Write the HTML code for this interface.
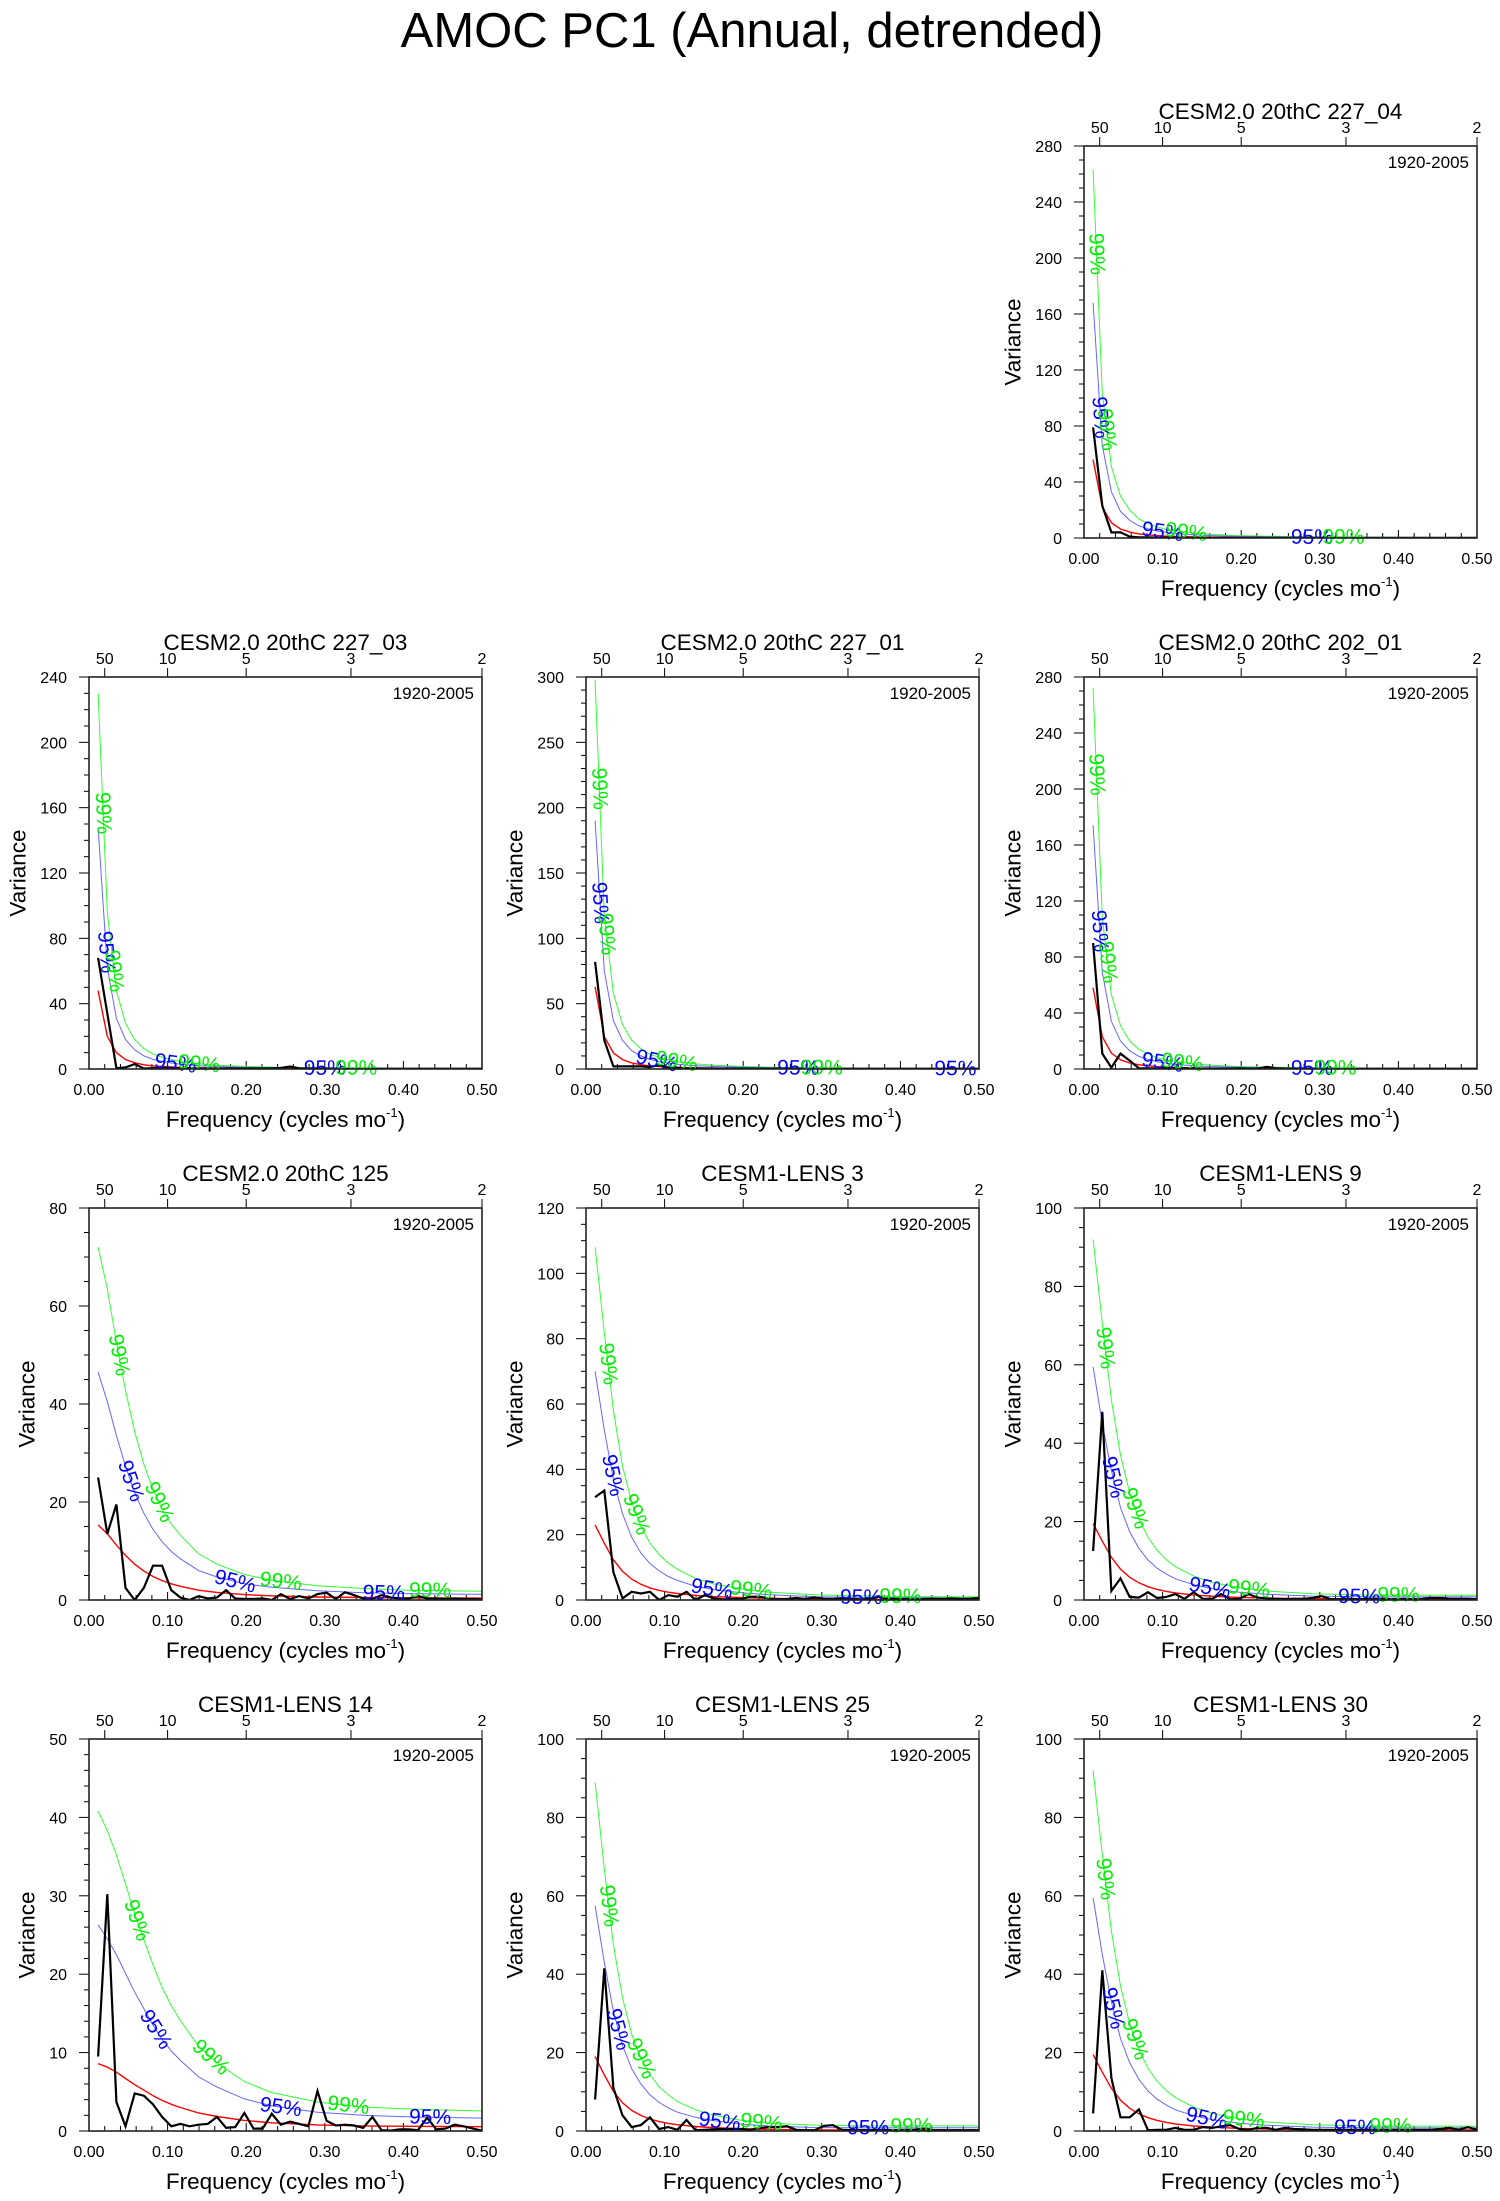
<!DOCTYPE html>
<html><head><meta charset="utf-8"><title>AMOC PC1 (Annual, detrended)</title>
<style>
html,body{margin:0;padding:0;background:#fff;}
svg{display:block;font-family:"Liberation Sans",Arial,sans-serif;}
</style></head>
<body>
<svg id="fig" width="1500" height="2201" viewBox="0 0 1500 2201" xmlns="http://www.w3.org/2000/svg">
<text x="752" y="47" font-size="49" text-anchor="middle" fill="#000">AMOC PC1 (Annual, detrended)</text>
</svg>
<script>
// ---- shared x data ----
const freqs = [0.0116,0.0233,0.0349,0.0465,0.0581,0.0698,0.0814,0.0930,0.1047,0.1163,0.1279,0.1395,0.1512,0.1628,0.1744,0.1860,0.1977,0.2093,0.2209,0.2326,0.2442,0.2558,0.2674,0.2791,0.2907,0.3023,0.3140,0.3256,0.3372,0.3488,0.3605,0.3721,0.3837,0.3953,0.4070,0.4186,0.4302,0.4419,0.4535,0.4651,0.4767,0.4884,0.5000];
const gridFreqs = [0.0116,0.0233,0.0349,0.0465,0.0581,0.0698,0.0814,0.0930,0.1047,0.1163,0.1395,0.1628,0.1977,0.2326,0.2907,0.3488,0.4070,0.5000];
const xTickVals = [0.0,0.1,0.2,0.3,0.4,0.5];
const xTickLabels = ["0.00","0.10","0.20","0.30","0.40","0.50"];
const periodLabels = ["50","10","5","3","2"];
const periodFreqs = [0.02,0.1,0.2,0.3333,0.5];

// ---- panel A: CESM2.0 20thC 227_04 ----
const specA = [79,23,4,4,1,0.5,0.4,0.3,0.3,0.2, 0.2,0.2,0.2,0.1,0.1,0.1,0.1,0.1,0.2,0.1, 0.1,0.1,0.1,0.1,0.1,0.1,0.1,0.1,0.1,0.1, 0.1,0.1,0.1,0.1,0.1,0.1,0.1,0.1,0.1,0.1, 0.1,0.1,0.1];
const redA = [56,22,10.9,6.4,4.2,2.9,2.2,1.7,1.3,1.1,0.75,0.55,0.37,0.27,0.17,0.12,0.09,0.06];
const c95A = [168,66,33,19,12.6,8.7,6.5,5,4,3.2,2.3,1.7,1.1,0.8,0.5,0.36,0.27,0.18];
const c99A = [263,103,51,30,20,13.6,10.3,8,6.1,5.2,3.5,2.6,1.7,1.3,0.8,0.56,0.42,0.28];
// ---- panel B: 227_03 ----
const specB = [68,34,0.5,1,3,0.3,0.5,0.8,0.6,0.4, 0.5,0.3,0.4,0.3,0.4,0.3,0.3,0.3,0.3,0.4, 0.6,1.5,0.4,0.3,0.3,0.3,0.2,0.2,0.2,0.2, 0.2,0.2,0.2,0.2,0.2,0.2,0.2,0.2,0.2,0.2, 0.2,0.2,0.2];
const redB = [48,20,10,5.8,3.8,2.6,1.9,1.5,1.2,0.95,0.66,0.48,0.33,0.24,0.15,0.11,0.08,0.06];
const c95B = [148,62,31,18,11.7,8,5.9,4.6,3.7,2.9,2,1.5,1,0.74,0.46,0.34,0.25,0.18];
const c99B = [230,96,48,28,18,12.5,9.1,7.2,5.8,4.6,3.2,2.3,1.6,1.15,0.72,0.53,0.38,0.29];
// ---- panel C: 227_01 ----
const specC = [82,22,2,2,2,2,1.5,3,1,1, 0.5,0.5,0.4,0.4,0.3,0.3,0.3,0.3,0.3,0.3, 0.3,0.3,0.3,0.2,0.2,0.2,0.2,0.2,0.2,0.2, 0.2,0.2,0.2,0.2,0.2,0.2,0.2,0.2,0.2,0.2, 0.2,0.2,0.2];
const redC = [63,24.8,12.3,7.2,4.7,3.3,2.4,1.9,1.5,1.2,0.84,0.62,0.42,0.3,0.19,0.13,0.1,0.07];
const c95C = [190,75,37,22,14,10,7.3,5.7,4.5,3.6,2.5,1.9,1.3,0.9,0.57,0.4,0.3,0.2];
const c99C = [298,117,58,34,22,15.5,11.3,8.9,7,5.6,3.9,2.9,2,1.4,0.9,0.6,0.47,0.33];
// ---- panel D: 202_01 ----
const specD = [90,11,1,11,6,0.5,0.5,0.5,0.8,0.6, 0.4,0.4,0.3,0.3,0.3,0.3,0.4,0.3,0.3,1.5, 0.6,0.3,0.3,0.3,0.2,0.2,0.2,0.2,0.2,0.2, 0.2,0.2,0.2,0.2,0.2,0.2,0.2,0.2,0.2,0.2, 0.2,0.2,0.2];
const redD = [58,23,11.3,6.6,4.3,3,2.3,1.7,1.4,1.1,0.78,0.57,0.38,0.28,0.18,0.12,0.09,0.06];
const c95D = [174,69,34,20,13,9,6.9,5.2,4.2,3.3,2.3,1.7,1.15,0.84,0.54,0.36,0.27,0.18];
const c99D = [272,108,53,31,20,14,10.8,8,6.6,5.2,3.7,2.7,1.8,1.3,0.85,0.56,0.42,0.28];
// ---- panel E: 125 ----
const specE = [25,13.5,19.5,2.5,0,2.5,7,7,2,0.5, 0,0.8,0.3,0.5,2,0.3,0.2,0.2,0.3,0, 1.2,0.2,0.8,0.3,1.2,1.5,0.2,1.6,1,0.3, 0.2,1,0.5,0.3,0.3,0.8,0.3,0.3,0.2,0.3, 0.2,0.2,0.1];
const redE = [15.3,13.5,11.2,9.1,7.3,5.9,4.8,3.95,3.3,2.8,2.0,1.55,1.1,0.85,0.62,0.5,0.43,0.38];
const c95E = [46.5,40.5,33.6,27.3,21.9,17.7,14.4,11.9,9.9,8.4,6,4.7,3.3,2.6,1.9,1.5,1.3,1.15];
const c99E = [72,63.5,52.6,42.8,34.3,27.7,22.6,18.6,15.5,13.2,9.4,7.3,5.2,4,2.9,2.35,2,1.8];
// ---- panel F: LENS 3 ----
const specF = [31.5,33.5,8.5,0.5,2.5,2,2.5,0,1.5,1, 2.5,0,1.5,0.5,0.2,0.3,0.3,1,1,0.5, 0.2,0.3,0.6,0.3,0.8,0.4,0.3,0.5,0.3,0.2, 0.3,1,0.4,0.3,0.3,0.2,0.3,0.4,0.3,0.5, 0.3,0.4,0.6];
const redF = [23,17.4,12.3,8.8,6.4,4.8,3.7,2.95,2.4,2,1.4,1.05,0.72,0.52,0.34,0.26,0.22,0.2];
const c95F = [70,52,37,26.4,19.2,14.4,11.1,8.9,7.2,6,4.2,3.2,2.2,1.6,1.0,0.8,0.66,0.6];
const c99F = [108,82,58,41,30,22.6,17.4,13.9,11.3,9.4,6.6,4.9,3.4,2.4,1.6,1.25,1.05,0.95];
// ---- panel G: LENS 9 ----
const specG = [12.5,48,2.3,5.5,0.8,0.6,2,0.5,0.8,1.5, 0.3,2,0.3,0.3,1.5,0.2,0.3,1.5,0.6,0.4, 0.3,0.2,0.3,0.3,0.5,1,0.2,0.2,0.3,0.2, 0.3,0.3,0.3,0.2,0.3,0.2,0.3,0.5,0.5,0.3, 0.3,0.3,0.2];
const redG = [19.5,15,10.9,7.85,5.8,4.4,3.4,2.7,2.2,1.8,1.3,0.96,0.66,0.48,0.33,0.28,0.27,0.26];
const c95G = [59.5,45,33,23.6,17.4,13.2,10.2,8.1,6.6,5.4,3.9,2.9,2,1.45,1.0,0.85,0.8,0.8];
const c99G = [92,70.5,51,37,27.3,20.7,16,12.7,10.3,8.5,6.1,4.5,3.1,2.3,1.6,1.3,1.25,1.2];
// ---- panel H: LENS 14 ----
const specH = [9.5,30.2,3.7,0.6,4.8,4.5,3.4,1.8,0.6,0.9, 0.6,0.8,0.9,1.8,0.4,0.5,2.3,0.3,0.3,2.2, 0.8,1.2,0.9,0.6,5.1,1.3,0.7,0.8,0.7,0.4, 1.8,0.1,0.05,0.2,0.2,0.1,1.7,0.2,0.3,0.8, 0.6,0.3,0.05];
const redH = [8.6,8.15,7.5,6.7,5.9,5.2,4.5,3.9,3.4,3.0,2.3,1.85,1.35,1.05,0.78,0.65,0.6,0.55];
const c95H = [26.3,24.5,22.5,20.1,17.7,15.6,13.5,11.7,10.2,9,6.9,5.6,4.1,3.2,2.4,2,1.8,1.65];
const c99H = [40.8,38.3,35.2,31.5,27.7,24.4,21.2,18.3,16,14.1,10.8,8.7,6.3,4.9,3.7,3.05,2.8,2.55];
// ---- panel I: LENS 25 ----
const specI = [8,41.5,11,4,1,1.5,3.5,0.5,1,0.3, 2.8,0.2,0.3,0.4,0.5,0.5,0.5,0.3,0.8,1, 1,1.2,0.3,0.2,0.2,1.3,1.5,0.3,0.2,0.2, 0.2,0.3,0.2,0.2,0.3,0.3,0.6,0.2,0.2,0.2, 0.2,0.2,0.2];
const redI = [19,14.3,10.1,7.2,5.25,3.95,3.05,2.4,1.95,1.6,1.15,0.85,0.58,0.42,0.28,0.25,0.25,0.28];
const c95I = [57.5,43,30.5,21.8,15.9,12,9.2,7.3,5.9,4.8,3.5,2.6,1.75,1.27,0.9,0.8,0.8,0.85];
const c99I = [89,67,47.5,34,24.7,18.6,14.3,11.3,9.2,7.5,5.4,4,2.7,2,1.5,1.3,1.3,1.3];
// ---- panel J: LENS 30 ----
const specJ = [4.5,41,13.5,3.5,3.5,5.5,0.2,0.3,0.3,0.8, 0.3,0.3,1,0.8,1.2,1.5,0.5,0.3,0.8,0.8, 0.3,0.8,0.5,0.4,0.3,0.3,0.3,0.3,0.3,0.3, 0.3,0.3,0.3,0.3,0.3,0.3,0.3,0.3,0.5,0.8, 0.3,1,0.3];
const redJ = [19.5,15,10.9,7.85,5.8,4.4,3.4,2.7,2.2,1.8,1.3,0.96,0.66,0.48,0.33,0.28,0.27,0.26];
const c95J = [59.5,45,33,23.6,17.4,13.2,10.2,8.1,6.6,5.4,3.9,2.9,2,1.45,1.0,0.85,0.8,0.8];
const c99J = [92,70.5,51,37,27.3,20.7,16,12.7,10.3,8.5,6.1,4.5,3.1,2.3,1.6,1.3,1.25,1.2];

const panels = [
 {key:'cesm2-227-04', title:'CESM2.0 20thC 227_04', col:2,row:0, ymax:280, ystep:40, ysub:4, spec:specA, red:redA, c95:c95A, c99:c99A, labF:[0.016,0.021,0.029,0.10,0.13,0.29,0.33], labT:['99','95','99','95','99','95','99']},
 {key:'cesm2-227-03', title:'CESM2.0 20thC 227_03', col:0,row:1, ymax:240, ystep:40, ysub:4, spec:specB, red:redB, c95:c95B, c99:c99B, labF:[0.018,0.022,0.032,0.11,0.14,0.30,0.34], labT:['99','95','99','95','99','95','99']},
 {key:'cesm2-227-01', title:'CESM2.0 20thC 227_01', col:1,row:1, ymax:300, ystep:50, ysub:5, spec:specC, red:redC, c95:c95C, c99:c99C, labF:[0.017,0.018,0.026,0.09,0.115,0.27,0.30,0.47], labT:['99','95','99','95','99','95','99','95']},
 {key:'cesm2-202-01', title:'CESM2.0 20thC 202_01', col:2,row:1, ymax:280, ystep:40, ysub:4, spec:specD, red:redD, c95:c95D, c99:c99D, labF:[0.016,0.02,0.03,0.10,0.125,0.29,0.32], labT:['99','95','99','95','99','95','99']},
 {key:'cesm2-125', title:'CESM2.0 20thC 125', col:0,row:2, ymax:80, ystep:20, ysub:4, spec:specE, red:redE, c95:c95E, c99:c99E, labF:[0.038,0.053,0.089,0.186,0.244,0.375,0.434], labT:['99','95','99','95','99','95','99']},
 {key:'lens-3', title:'CESM1-LENS 3', col:1,row:2, ymax:120, ystep:20, ysub:4, spec:specF, red:redF, c95:c95F, c99:c99F, labF:[0.028,0.034,0.064,0.16,0.21,0.35,0.40], labT:['99','95','99','95','99','95','99']},
 {key:'lens-9', title:'CESM1-LENS 9', col:2,row:2, ymax:100, ystep:20, ysub:4, spec:specG, red:redG, c95:c95G, c99:c99G, labF:[0.027,0.037,0.065,0.16,0.21,0.35,0.40], labT:['99','95','99','95','99','95','99']},
 {key:'lens-14', title:'CESM1-LENS 14', col:0,row:3, ymax:50, ystep:10, ysub:5, spec:specH, red:redH, c95:c95H, c99:c99H, labF:[0.061,0.085,0.155,0.244,0.33,0.434], labT:['99','95','99','95','99','95']},
 {key:'lens-25', title:'CESM1-LENS 25', col:1,row:3, ymax:100, ystep:20, ysub:4, spec:specI, red:redI, c95:c95I, c99:c99I, labF:[0.029,0.041,0.07,0.17,0.223,0.359,0.414], labT:['99','95','99','95','99','95','99']},
 {key:'lens-30', title:'CESM1-LENS 30', col:2,row:3, ymax:100, ystep:20, ysub:4, spec:specJ, red:redJ, c95:c95J, c99:c99J, labF:[0.027,0.037,0.065,0.156,0.203,0.345,0.39], labT:['99','95','99','95','99','95','99']}
];

const colX = [89,586,1084];
const rowY = [146,677,1208,1739];
const PW = 393, PH = 392, FMAX = 0.5;
const NS = 'http://www.w3.org/2000/svg';
const svg = document.getElementById('fig');

function mk(tag, attrs, parent){
  const el = document.createElementNS(NS, tag);
  for (const k in attrs) el.setAttribute(k, attrs[k]);
  parent.appendChild(el);
  return el;
}
function interp(xsArr, ysArr, f){
  if (f <= xsArr[0]) return ysArr[0];
  for (let i=1;i<xsArr.length;i++){
    if (f <= xsArr[i]){ const t=(f-xsArr[i-1])/(xsArr[i]-xsArr[i-1]); return ysArr[i-1]+t*(ysArr[i]-ysArr[i-1]); }
  }
  return ysArr[ysArr.length-1];
}

panels.forEach(p => {
  const x0 = colX[p.col], y0 = rowY[p.row];
  const xs = f => x0 + f/FMAX*PW;
  const ys = v => y0 + PH - v/p.ymax*PH;
  const g = mk('g', {}, svg);
  
  

  const cx = x0 + PW/2;
  const t = mk('text', {x:cx, y:y0-27, 'font-size':22.5, 'text-anchor':'middle', fill:'#000'}, g);
  t.textContent = p.title;
  
  

  const cp = mk('clipPath', {id:'clip-'+p.key}, g);
  mk('rect', {x:x0, y:y0, width:PW, height:PH}, cp);

  const yt = mk('g', {stroke:'#000','stroke-width':1}, g);
  
  
  const minorStep = p.ystep/p.ysub;
  for (let v=0; v<=p.ymax+1e-9; v+=minorStep){
    const isMajor = Math.abs(v/p.ystep - Math.round(v/p.ystep)) < 1e-6;
    const yy = ys(v);
    mk('line', {x1:x0-(isMajor?10:5), y1:yy, x2:x0, y2:yy}, yt);
    if (isMajor){
      const lab = mk('text', {x:x0-22, y:yy+6, 'font-size':16, 'text-anchor':'end', fill:'#000', stroke:'none'}, g);
      lab.textContent = String(Math.round(v));
      
      
    }
  }
  for (let k=0;k<=25;k++){
    const f = k*0.02;
    const xx = xs(f);
    const isMajor = (k%5===0);
    mk('line', {x1:xx, y1:y0+PH, x2:xx, y2:y0+PH-(isMajor?8:5), stroke:'#000','stroke-width':1}, g);
  }
  xTickVals.forEach((f,i) => {
    const lab = mk('text', {x:xs(f), y:y0+PH+26, 'font-size':16, 'text-anchor':'middle', fill:'#000'}, g);
    lab.textContent = xTickLabels[i];
    
    
  });
  periodFreqs.forEach((f,i) => {
    mk('line', {x1:xs(f), y1:y0, x2:xs(f), y2:y0-9, stroke:'#000','stroke-width':1}, g);
    const lab = mk('text', {x:xs(f), y:y0-13, 'font-size':16, 'text-anchor':'middle', fill:'#000'}, g);
    lab.textContent = periodLabels[i];
    
    
  });

  const nd = String(p.ymax).length;
  const vx = x0 - 44 - nd*9;
  const vt = mk('text', {x:vx, y:y0+PH/2, 'font-size':22.5, 'text-anchor':'middle', fill:'#000', transform:'rotate(-90 '+vx+' '+(y0+PH/2)+')', 'dominant-baseline':'central'}, g);
  vt.textContent = 'Variance';
  
  
  const ft = mk('text', {x:cx, y:y0+PH+58, 'font-size':22.5, 'text-anchor':'middle', fill:'#000'}, g);
  
  
  const s1 = mk('tspan', {}, ft); s1.textContent = 'Frequency (cycles mo';
  const s2 = mk('tspan', {'font-size':13, dy:-10}, ft); s2.textContent = '-1';
  const s3 = mk('tspan', {dy:10}, ft); s3.textContent = ')';

  const yr = mk('text', {x:x0+PW-8, y:y0+22, 'font-size':17, 'text-anchor':'end', fill:'#000'}, g);
  yr.textContent = '1920-2005';
  
  

  const cg = mk('g', {'clip-path':'url(#clip-'+p.key+')', fill:'none'}, g);
  
  
  const ptsOf = (fa, va) => fa.map((f,i)=> xs(f).toFixed(1)+','+ys(va[i]).toFixed(1)).join(' ');
  const l99 = mk('polyline', {points:ptsOf(gridFreqs,p.c99), stroke:'#33ff33','stroke-width':1}, cg);
  
  
  const l95 = mk('polyline', {points:ptsOf(gridFreqs,p.c95), stroke:'#6666ff','stroke-width':1}, cg);
  
  
  const lr = mk('polyline', {points:ptsOf(gridFreqs,p.red), stroke:'#ff0000','stroke-width':1.4}, cg);
  
  
  const ls = mk('polyline', {points:ptsOf(freqs,p.spec), stroke:'#000','stroke-width':2.2,'stroke-linejoin':'miter'}, cg);
  
  

  p.labF.forEach((f,i) => {
    const arr = p.labT[i]==='99' ? p.c99 : p.c95;
    const px = xs(f), py = ys(interp(gridFreqs, arr, f));
    const d = 0.004;
    const ax = xs(f-d), ay = ys(interp(gridFreqs, arr, f-d));
    const bx = xs(f+d), by = ys(interp(gridFreqs, arr, f+d));
    const ang = Math.atan2(by-ay, bx-ax)*180/Math.PI;
    const lt = mk('text', {x:px, y:py, 'font-size':21, 'text-anchor':'middle','dominant-baseline':'central', fill: p.labT[i]==='99' ? '#00ee00' : '#0000ff', transform:'rotate('+ang.toFixed(1)+' '+px.toFixed(1)+' '+py.toFixed(1)+')'}, g);
    lt.textContent = p.labT[i] + '%';
    
    
  });

  const fr = mk('rect', {x:x0, y:y0, width:PW, height:PH, fill:'none', stroke:'#222','stroke-width':1.6}, g);
  
  
});
</script>
</body></html>
